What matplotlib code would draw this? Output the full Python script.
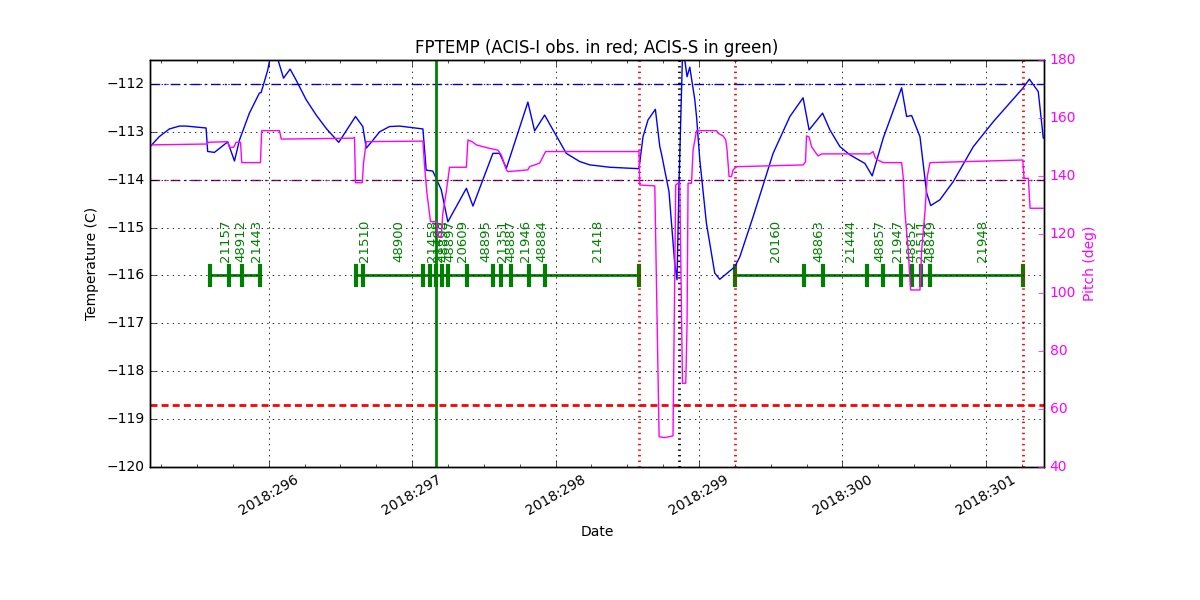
import matplotlib
matplotlib.use("Agg")
import matplotlib.pyplot as plt
from matplotlib.ticker import MultipleLocator, FixedLocator
import matplotlib.transforms as mtransforms

# ---------------- data (day of year 2018) ----------------
temp_days = [295.179, 295.237, 295.307, 295.377, 295.424, 295.563, 295.574, 295.621,
             295.714, 295.761, 295.796, 295.865, 295.935, 295.947, 295.993, 296.019,
             296.054, 296.103, 296.149, 296.191, 296.261, 296.331, 296.401, 296.488,
             296.605, 296.656, 296.680, 296.717, 296.773, 296.842, 296.912, 297.075,
             297.098, 297.144, 297.203, 297.249, 297.378, 297.424, 297.563, 297.610,
             297.657, 297.807, 297.854, 297.924, 297.982, 298.075, 298.168, 298.238,
             298.378, 298.582, 298.610, 298.645, 298.696, 298.727, 298.738, 298.791,
             298.831, 298.847, 298.861, 298.887, 298.917, 298.936, 298.971, 298.983,
             299.006, 299.052, 299.110, 299.145, 299.250, 299.285, 299.378, 299.517,
             299.634, 299.726, 299.768, 299.862, 299.913, 299.983, 300.052, 300.157,
             300.208, 300.285, 300.413, 300.448, 300.483, 300.541, 300.588, 300.616,
             300.680, 300.773, 300.913, 301.052, 301.258, 301.304, 301.366, 301.401]
fptemp = [-113.29, -113.10, -112.94, -112.88, -112.88, -112.92, -113.41, -113.43,
          -113.21, -113.61, -113.17, -112.61, -112.19, -112.18, -111.71, -111.30,
          -111.39, -111.88, -111.69, -111.92, -112.33, -112.65, -112.93, -113.22,
          -112.68, -112.89, -113.34, -113.21, -113.00, -112.89, -112.88, -112.94,
          -113.80, -113.82, -114.21, -114.88, -114.18, -114.55, -113.45, -113.45,
          -113.76, -112.38, -112.98, -112.65, -112.96, -113.45, -113.62, -113.69,
          -113.74, -113.77, -113.10, -112.75, -112.53, -113.31, -113.45, -114.25,
          -115.75, -116.09, -114.07, -111.19, -111.85, -111.65, -112.33, -112.68,
          -113.59, -114.91, -115.95, -116.08, -115.82, -115.61, -114.77, -113.45,
          -112.68, -112.29, -112.96, -112.61, -112.96, -113.31, -113.48, -113.66,
          -113.92, -113.13, -112.08, -112.68, -112.66, -113.10, -114.28, -114.54,
          -114.42, -114.04, -113.31, -112.79, -112.09, -111.90, -112.16, -113.13]

pitch_days = [295.179, 295.574, 295.575, 295.714, 295.726, 295.756, 295.772, 295.803,
              295.812, 295.942, 295.951, 296.075, 296.087, 296.586, 296.598, 296.605,
              296.652, 296.661, 296.680, 297.075, 297.087, 297.103, 297.128, 297.172,
              297.179, 297.203, 297.214, 297.238, 297.261, 297.378, 297.389, 297.422,
              297.447, 297.493, 297.540, 297.598, 297.622, 297.657, 297.668, 297.807,
              297.819, 297.889, 297.924, 297.931, 298.582, 298.587, 298.692, 298.722,
              298.761, 298.819, 298.838, 298.854, 298.866, 298.885, 298.908, 298.917,
              298.924, 298.948, 298.959, 298.983, 299.122, 299.133, 299.168, 299.187,
              299.196, 299.210, 299.227, 299.238, 299.262, 299.726, 299.743, 299.750,
              299.768, 299.785, 299.808, 299.831, 299.855, 300.192, 300.215, 300.227,
              300.239, 300.285, 300.413, 300.424, 300.436, 300.459, 300.476, 300.541,
              300.553, 300.576, 300.592, 300.611, 301.258, 301.267, 301.297, 301.309,
              301.401]
pitch = [150.8, 151.1, 151.7, 151.9, 150.0, 150.0, 151.7, 151.7,
         144.7, 144.7, 155.7, 155.7, 152.8, 153.1, 153.4, 137.8,
         137.8, 144.5, 151.9, 152.1, 143.3, 134.2, 124.4, 124.4,
         119.2, 119.2, 127.3, 134.7, 143.1, 143.1, 152.5, 151.8,
         150.8, 150.2, 149.6, 149.0, 147.3, 142.2, 141.6, 142.2,
         143.3, 144.5, 147.9, 148.5, 148.5, 137.0, 136.7, 50.4,
         50.1, 50.7, 137.0, 137.6, 137.6, 68.8, 68.8, 89.5,
         137.6, 137.6, 149.0, 155.7, 155.7, 154.8, 153.9, 152.5,
         149.0, 139.9, 139.9, 142.2, 143.3, 143.9, 145.0, 153.9,
         153.5, 150.2, 148.5, 147.0, 147.7, 147.7, 148.5, 146.7,
         145.8, 144.7, 144.7, 139.9, 127.8, 114.6, 100.9, 100.9,
         114.6, 127.8, 139.9, 144.7, 145.6, 139.3, 139.3, 129.0,
         129.0]

# observation boundaries (start of each obs + end of last), per continuous block
obs_blocks = [
    [295.593, 295.721, 295.812, 295.942],
    [296.605, 296.659, 297.077, 297.126, 297.167, 297.205, 297.247, 297.380,
     297.565, 297.617, 297.687, 297.812, 297.924, 298.582],
    [299.253, 299.733, 299.866, 300.169, 300.281, 300.410, 300.483, 300.546,
     300.613, 301.258],
]
obsids = [
    ["21157", "48912", "21443"],
    ["21510", "48900", "21458", "21489", "48898", "48897", "20609", "48895",
     "21351", "48887", "21946", "48884", "21418"],
    ["20160", "48863", "21444", "48857", "21947", "48852", "21511", "48849",
     "21948"],
]

obs_level = -116.0
planning_limit = -112.0
yellow_limit = -114.0
red_limit = -118.7
now_line = 297.163
perigee_line = 298.859
acis_i_lines = [298.582, 299.250, 301.258]

xlim = (295.172, 301.406)
temp_ylim = (-120.0, -111.5)
pitch_ylim = (40, 180)
day_ticks = [296, 297, 298, 299, 300, 301]
day_labels = ["2018:296", "2018:297", "2018:298", "2018:299", "2018:300", "2018:301"]

# ---------------- plot ----------------
plt.style.use("classic")
plt.rcParams["font.family"] = ["DejaVu Sans"]
plt.rcParams["font.size"] = 10
fig = plt.figure(figsize=(12, 6), dpi=100, facecolor="white")
ax = fig.add_axes([0.125, 0.2217, 0.745, 0.6783])
ax.set_facecolor("white")

ax.plot(temp_days, fptemp, color="blue", lw=1.0, zorder=3)

ax.axhline(planning_limit, color="blue", lw=1.0, dashes=(7, 3, 1.5, 3))
ax.axhline(yellow_limit, color="purple", lw=1.0, dashes=(7, 3, 1.5, 3))
ax.axhline(red_limit, color="red", lw=2.0, dashes=(5, 3))

ax.axvline(now_line, color="green", ls="-", lw=2.0, zorder=4)
ax.axvline(perigee_line, color="black", ls=":", lw=2.0, zorder=4)
for xv in acis_i_lines:
    ax.axvline(xv, color="red", ls=":", lw=2.0, zorder=4)

lab_trans = mtransforms.offset_copy(ax.transData, fig=fig, x=5.5, y=0, units="dots")
for block, ids in zip(obs_blocks, obsids):
    ax.plot([block[0], block[-1]], [obs_level, obs_level], color="green", lw=2.0, zorder=2)
    for t in block:
        ax.plot([t, t], [obs_level - 0.2, obs_level + 0.2], color="green", lw=3.0, zorder=2)
    for t0, t1, oid in zip(block[:-1], block[1:], ids):
        ax.text(0.5 * (t0 + t1), obs_level + 0.28, oid, rotation=90, color="green",
                ha="center", va="bottom", fontsize=9.5, transform=lab_trans)

ax.set_xlim(*xlim)
ax.set_ylim(*temp_ylim)
ax.xaxis.set_major_locator(FixedLocator(day_ticks))
ax.set_xticklabels(day_labels, rotation=30, ha="center")
ax.xaxis.set_minor_locator(MultipleLocator(0.25))
ax.yaxis.set_major_locator(MultipleLocator(1))
ax.grid(True, color="black", ls=":", lw=0.6)
ax.set_xlabel("Date")
ax.set_ylabel("Temperature (C)")
ax.set_title("FPTEMP (ACIS-I obs. in red; ACIS-S in green)", fontsize=12)

ax2 = ax.twinx()
ax2.plot(pitch_days, pitch, color="#ff00ff", lw=1.0)
ax2.set_ylim(*pitch_ylim)
ax2.yaxis.set_major_locator(MultipleLocator(20))
ax2.set_ylabel("Pitch (deg)", color="#ff00ff")
ax2.tick_params(axis="y", colors="#ff00ff")
ax2.set_xlim(*xlim)

fig.savefig("out.png", dpi=100, facecolor="white")
